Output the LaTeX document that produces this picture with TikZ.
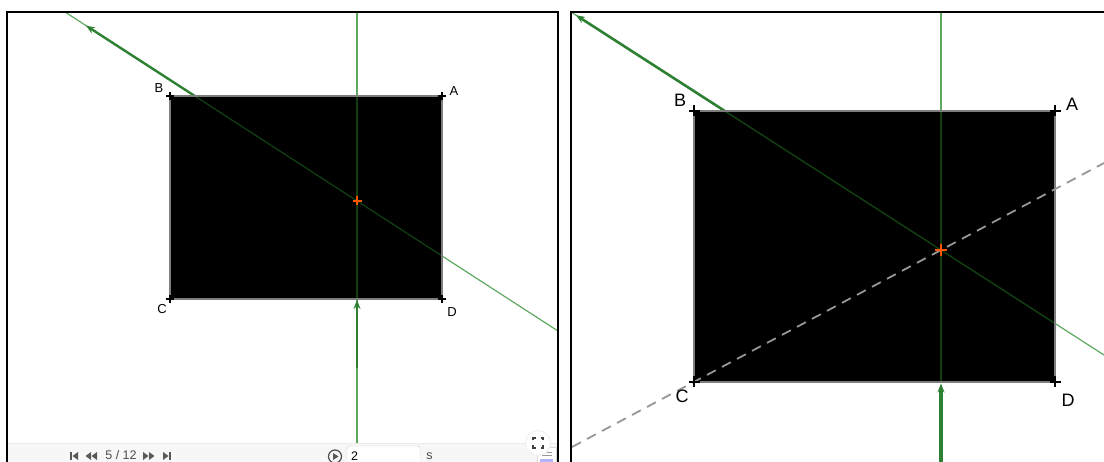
\documentclass[tikz,border=0pt]{standalone}
\usepackage{fontspec}
\setmainfont{Liberation Sans}
\usetikzlibrary{arrows.meta}
\definecolor{raygreen}{RGB}{46,128,50}
\definecolor{linegreen}{RGB}{95,168,95}
\definecolor{darkgreen}{RGB}{16,62,16}
\definecolor{crossorange}{RGB}{255,85,0}
\definecolor{edgegray}{RGB}{125,125,125}
\definecolor{axisgray}{RGB}{150,150,150}
\definecolor{barbg}{RGB}{247,247,247}
\newcommand{\cornertick}[2]{\draw[corner] (#1) ++(-#2,0) -- ++(2*#2,0) (#1) ++(0,-#2) -- ++(0,2*#2);}
\newcommand{\centrecross}[2]{\draw[crossorange, line width=2pt] (#1) ++(-#2,0) -- ++(2*#2,0) (#1) ++(0,-#2) -- ++(0,2*#2);}

\begin{document}
\begin{tikzpicture}[x=1pt, y=-1pt,
    panel/.style={draw=black, line width=1.8pt},
    fullline/.style={linegreen, line width=1.2pt},
    innerline/.style={darkgreen, line width=1.3pt},
    ray/.style={raygreen, line width=2.4pt, -{Stealth[length=9pt,width=7pt]}},
    mirror/.style={fill=black},
    rim/.style={draw=edgegray, line width=1.5pt},
    corner/.style={black, line width=1.3pt},
    axis/.style={axisgray, line width=1.8pt, dash pattern=on 10pt off 7pt},
    smalllbl/.style={font=\fontsize{13}{13}\selectfont, inner sep=0pt},
    biglbl/.style={font=\fontsize{18}{18}\selectfont, inner sep=0pt},
    toolicon/.style={fill=black!65, draw=none},
    tooltext/.style={font=\fontsize{12.5}{12.5}\selectfont, text=black!70, inner sep=0pt}
  ]
  \useasboundingbox (0,0) rectangle (1104,462);

  % Panneau gauche
  \coordinate (lA) at (442,96);
  \coordinate (lB) at (170,96);
  \coordinate (lC) at (170,299);
  \coordinate (lD) at (442,299);
  \coordinate (lO) at (357,201);
  \coordinate (lTop) at (357,12);
  \coordinate (lBot) at (357,443);
  \coordinate (lUp) at (357,96);
  \coordinate (lDown) at (357,299);
  \coordinate (lIn) at (357,368);
  \coordinate (lFar) at (65,12);
  \coordinate (lEnd) at (558,331);
  \coordinate (lHit) at (194.8,96);
  \coordinate (lTip) at (86,25.6);

  \draw[fullline] (lTop) -- (lUp);
  \draw[fullline] (lDown) -- (lBot);
  \draw[fullline] (lFar) -- (lEnd);
  \draw[ray, line width=2.8pt] (lIn) -- (357,300);
  \draw[ray] (lHit) -- (lTip);
  \fill[mirror] (lA) -- (lB) -- (lC) -- (lD) -- cycle;
  \draw[innerline] (lUp) -- (lDown);
  \begin{scope}
    \clip (lA) -- (lB) -- (lC) -- (lD) -- cycle;
    \draw[innerline] (lFar) -- (lEnd);
  \end{scope}
  \draw[rim] (lA) -- (lB) -- (lC) -- (lD) -- cycle;
  \cornertick{lA}{4}
  \cornertick{lB}{4}
  \cornertick{lC}{4}
  \cornertick{lD}{4}
  \centrecross{lO}{4.5}

  \node[smalllbl] (labA) at (454,91) {A};
  \node[smalllbl] (labB) at (159,88) {B};
  \node[smalllbl] (labC) at (162,309) {C};
  \node[smalllbl] (labD) at (452,312) {D};

  % Barre d'animation
  \fill[barbg] (8,443) rectangle (557,462);
  \draw[black!8] (8,443) -- (557,443);
  \fill[toolicon] (70.2,452) rectangle (71.6,460);
  \fill[toolicon] (78,452) -- (72.5,456) -- (78,460) -- cycle;
  \fill[toolicon] (91,452) -- (85.5,456) -- (91,460) -- cycle;
  \fill[toolicon] (97,452) -- (91.5,456) -- (97,460) -- cycle;
  \node[tooltext] (frameno) at (121,455.5) {5 / 12};
  \fill[toolicon] (143,452) -- (148.5,456) -- (143,460) -- cycle;
  \fill[toolicon] (149,452) -- (154.5,456) -- (149,460) -- cycle;
  \fill[toolicon] (163,452) -- (168.5,456) -- (163,460) -- cycle;
  \fill[toolicon] (169.4,452) rectangle (170.8,460);
  \node[circle, draw=black!70, line width=1.2pt, minimum size=13pt, inner sep=0pt] (play) at (335,456.5) {};
  \fill[toolicon] (333,453) -- (338.5,456.5) -- (333,460) -- cycle;
  \draw[rounded corners=3pt, draw=black!18, fill=white] (347,446) rectangle (420,472);
  \node[tooltext, anchor=west, text=black] (delay) at (351,456) {2};
  \node[tooltext] (unit) at (429.5,456) {s};
  \draw[draw=black!15, fill=white] (537,447) rectangle (556,466);
  \draw[black!40, line width=0.6pt] (542,452) -- (552,452) (542,455) -- (552,455);
  \fill[blue!30] (540,459) rectangle (553,462);
  \node[circle, fill=white, draw=black!6, line width=1pt, minimum size=25pt, inner sep=0pt] (fullscr) at (538,443) {};
  \draw[black!75, line width=1.1pt]
    (533,440.5) -- (533,438) -- (535.5,438)
    (540.5,438) -- (543,438) -- (543,440.5)
    (543,445.5) -- (543,448) -- (540.5,448)
    (535.5,448) -- (533,448) -- (533,445.5);

  \draw[panel] (7,462) -- (7,12) -- (558,12) -- (558,462);

  % Panneau droit
  \coordinate (rA) at (1055,111);
  \coordinate (rB) at (694,111);
  \coordinate (rC) at (694,382);
  \coordinate (rD) at (1055,382);
  \coordinate (rO) at (941,250);
  \coordinate (rTop) at (941,12);
  \coordinate (rBot) at (941,462);
  \coordinate (rUp) at (941,111);
  \coordinate (rDown) at (941,382);
  \coordinate (rFar) at (571,12);
  \coordinate (rEnd) at (1104,355);
  \coordinate (rHit) at (724.8,111);
  \coordinate (rTip) at (576,15.2);
  \coordinate (dashL) at (572,447);
  \coordinate (dashR) at (1104,163);

  \draw[fullline] (rTop) -- (rUp);
  \draw[fullline] (rFar) -- (rEnd);
  \draw[ray, line width=3.2pt] (rBot) -- (941,383.5);
  \draw[ray, line width=2.6pt] (rHit) -- (rTip);
  \fill[mirror] (rA) -- (rB) -- (rC) -- (rD) -- cycle;
  \draw[innerline, line width=1.5pt] (rUp) -- (rDown);
  \begin{scope}
    \clip (rA) -- (rB) -- (rC) -- (rD) -- cycle;
    \draw[innerline, line width=1.5pt] (rFar) -- (rEnd);
  \end{scope}
  \draw[rim, line width=2pt] (rA) -- (rB) -- (rC) -- (rD) -- cycle;
  \draw[axis] (dashL) -- (dashR);
  \cornertick{rA}{5.5}
  \cornertick{rB}{5.5}
  \cornertick{rC}{5.5}
  \cornertick{rD}{5.5}
  \centrecross{rO}{6}

  \node[biglbl] (labA2) at (1072,104) {A};
  \node[biglbl] (labB2) at (680,100) {B};
  \node[biglbl] (labC2) at (682,396) {C};
  \node[biglbl] (labD2) at (1068,400) {D};

  \draw[panel] (571,462) -- (571,12) -- (1104,12);
\end{tikzpicture}
\end{document}
